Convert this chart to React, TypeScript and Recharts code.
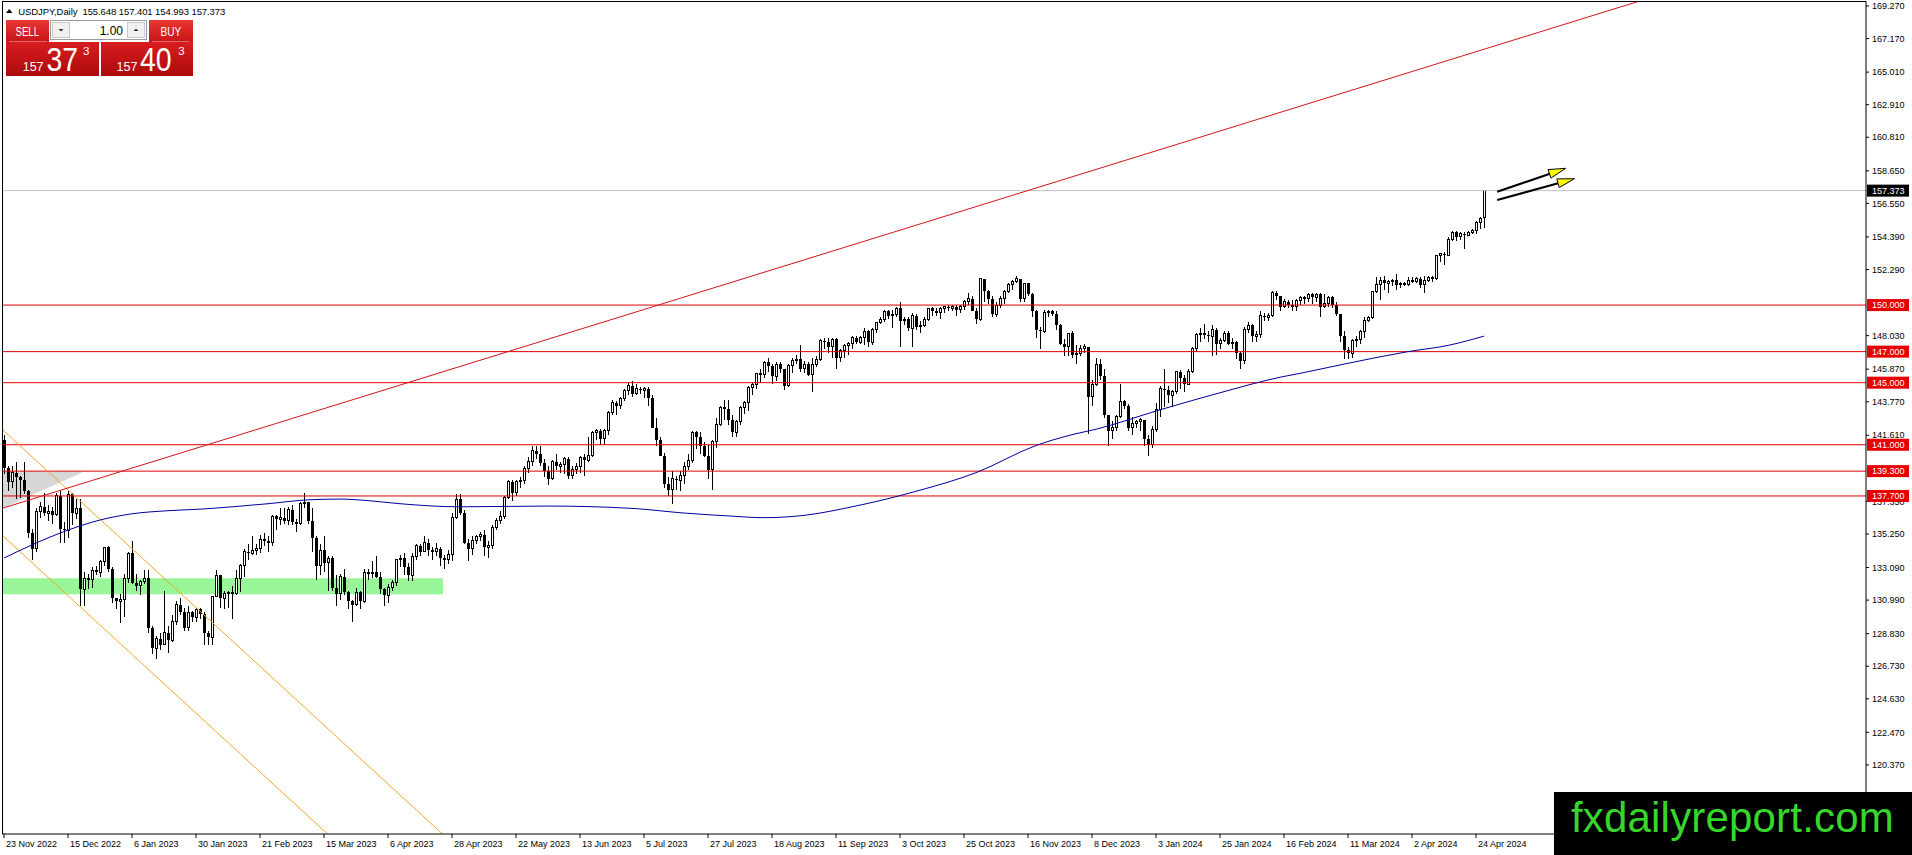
// USDJPY Daily — MT4-style candlestick chart rebuilt with Recharts

import {
  ComposedChart, Bar, Line, XAxis, YAxis, ReferenceLine, ReferenceArea,
} from 'recharts'

type Ohlc = [number, number, number, number] // open, high, low, close

// ─── daily candles, one array per month ─────────────────────────────────────
const nov22: Ohlc[] = [
  [141.3,141.6,139.1,139.5],[139.5,139.6,138.0,138.6],[138.6,139.6,138.2,139.2],
  [139.2,139.9,137.5,138.9],[138.9,139.0,137.6,138.7],[138.7,139.9,137.8,138.0],
]
const dec22: Ohlc[] = [
  [138.0,138.1,135.0,135.3],[135.3,135.6,133.6,134.3],
  [134.3,136.9,134.1,136.7],[136.7,137.3,136.3,137.0],[137.0,137.9,136.4,136.6],[136.6,137.1,136.1,136.7],[136.7,137.0,135.9,136.5],
  [136.5,137.9,136.4,137.7],[137.7,138.0,134.7,135.6],[135.6,136.0,134.7,135.5],[135.5,138.0,135.0,137.8],[137.8,137.9,135.8,136.6],
  [136.6,137.5,136.2,136.9],[136.9,137.5,130.6,131.7],[131.7,132.8,130.6,132.4],[132.4,132.7,131.7,132.3],[132.3,133.1,131.8,132.9],
  [132.9,133.2,132.6,132.8],[132.8,133.6,132.5,133.5],[133.5,134.4,133.2,134.4],[134.4,134.5,132.8,133.0],[133.0,133.1,130.8,131.1],
]
const jan23: Ohlc[] = [
  [131.1,131.1,130.4,130.9],[130.9,131.4,129.5,131.0],[131.0,132.7,129.9,132.4],[132.4,134.1,132.1,134.0],[134.0,134.8,132.0,132.1],
  [132.1,132.7,131.6,131.9],[131.9,132.3,131.3,132.2],[132.2,132.9,132.0,132.4],[132.4,132.9,128.9,129.2],[129.2,129.3,127.5,127.9],
  [127.9,128.7,127.2,128.5],[128.5,128.9,127.8,128.1],[128.1,131.6,128.1,128.9],[128.9,129.3,127.6,128.4],[128.4,130.0,128.3,129.6],
  [129.6,130.9,129.4,130.7],[130.7,131.1,130.0,130.2],[130.2,130.5,129.0,129.2],[129.2,130.6,129.0,130.2],[130.2,130.3,129.6,129.9],
  [129.9,130.5,129.6,130.4],[130.4,130.5,129.8,130.1],
]
const feb23: Ohlc[] = [
  [130.1,130.2,128.1,128.9],[128.9,129.0,128.1,128.6],[128.6,131.2,128.1,131.2],
  [131.2,132.9,131.2,132.6],[132.6,132.6,130.5,131.1],[131.1,131.6,130.4,131.4],[131.4,131.6,130.5,131.5],[131.5,131.9,129.8,131.4],
  [131.4,132.9,131.3,132.4],[132.4,133.3,131.5,133.2],[133.2,134.3,132.5,134.1],[134.1,134.6,133.6,134.0],[134.0,135.1,133.9,134.2],
  [134.2,134.6,133.9,134.3],[134.3,135.2,134.0,134.9],[134.9,135.3,134.5,134.8],[134.8,135.1,134.1,134.7],[134.7,136.5,134.5,136.4],
  [136.4,136.5,135.5,136.2],[136.2,136.9,135.8,136.3],
]
const mar23: Ohlc[] = [
  [136.3,136.9,135.9,136.1],[136.1,137.0,135.8,136.8],[136.8,137.1,135.8,136.0],
  [136.0,136.2,135.4,135.9],[135.9,137.3,135.8,137.2],[137.2,137.9,136.9,137.3],[137.3,137.3,135.9,136.1],[136.1,136.9,134.1,135.0],
  [135.0,135.1,132.3,133.2],[133.2,134.6,132.6,134.2],[134.2,135.1,132.8,133.4],[133.4,133.8,131.6,133.7],[133.7,133.8,131.6,131.8],
  [131.8,132.6,130.6,131.4],[131.4,132.7,131.0,132.5],[132.5,133.0,131.3,131.5],[131.5,131.6,130.4,130.9],[130.9,131.0,129.6,130.7],
  [130.7,131.8,130.6,131.5],[131.5,131.6,130.4,130.9],[130.9,133.0,130.8,132.8],[132.8,133.0,132.3,132.7],[132.7,133.5,132.4,132.8],
]
const apr23: Ohlc[] = [
  [132.8,133.8,132.4,132.5],[132.5,132.8,131.4,131.7],[131.7,131.8,130.6,131.3],[131.3,132.0,130.8,131.8],[131.8,132.3,131.6,132.1],
  [132.1,133.6,131.9,133.6],[133.6,133.9,133.1,133.7],[133.7,134.0,132.6,133.1],[133.1,133.4,132.2,132.6],[132.6,134.0,132.2,133.8],
  [133.8,134.6,133.6,134.5],[134.5,134.6,133.8,134.1],[134.1,135.1,134.1,134.7],[134.7,134.9,133.8,134.2],[134.2,134.4,133.6,134.1],
  [134.1,134.7,133.8,134.3],[134.3,134.4,133.2,133.7],[133.7,133.9,133.0,133.6],[133.6,134.2,133.3,133.9],[133.9,136.6,133.5,136.3],
]
const may23: Ohlc[] = [
  [136.3,137.8,136.2,137.5],[137.5,137.8,136.5,136.6],[136.6,136.8,134.6,134.7],[134.7,134.9,133.5,134.3],[134.3,135.1,133.9,134.8],
  [134.8,135.2,134.6,135.1],[135.1,135.4,134.8,135.2],[135.2,135.5,133.8,134.4],[134.4,134.8,133.7,134.5],[134.5,135.8,134.3,135.7],
  [135.7,136.3,135.5,136.1],[136.1,136.7,135.9,136.4],[136.4,137.7,136.2,137.6],[137.6,138.7,137.5,138.6],[138.6,138.7,137.4,137.9],
  [137.9,138.7,137.7,138.6],[138.6,138.9,138.2,138.7],[138.7,139.6,138.5,139.5],[139.5,140.2,139.2,139.9],[139.9,140.9,139.6,140.6],
  [140.6,140.9,140.1,140.4],[140.4,140.9,139.6,139.8],[139.8,140.1,138.9,139.3],
]
const jun23: Ohlc[] = [
  [139.3,139.6,138.4,138.8],[138.8,140.0,138.7,139.9],
  [139.9,140.4,139.4,139.6],[139.6,139.9,139.2,139.7],[139.7,140.2,139.1,140.1],[140.1,140.2,138.8,139.0],[139.0,139.6,138.8,139.4],
  [139.4,139.8,139.1,139.6],[139.6,140.3,139.2,140.2],[140.2,140.4,139.0,140.0],[140.0,141.5,139.9,140.3],[140.3,141.9,140.2,141.8],
  [141.8,142.0,141.3,141.9],[141.9,142.0,141.0,141.4],[141.4,142.0,141.0,141.9],[141.9,143.2,141.6,143.1],[143.1,143.9,142.9,143.7],
  [143.7,143.8,142.9,143.5],[143.5,144.1,143.3,144.0],[144.0,144.6,143.8,144.5],[144.5,145.0,144.2,144.8],[144.8,145.1,144.1,144.3],
]
const jul23: Ohlc[] = [
  [144.3,144.9,144.2,144.6],[144.6,144.7,144.3,144.5],[144.5,144.7,144.0,144.6],[144.6,144.7,143.5,144.0],[144.0,144.2,142.1,142.1],
  [142.1,142.7,140.9,141.3],[141.3,141.5,140.3,140.3],[140.3,140.5,138.2,138.5],[138.5,138.9,137.7,138.1],[138.1,139.3,137.2,138.8],
  [138.8,139.0,138.1,138.7],[138.7,139.3,138.0,139.0],[139.0,139.9,138.5,139.6],[139.6,140.4,139.4,140.0],[140.0,141.9,139.8,141.8],
  [141.8,141.9,140.7,141.5],[141.5,141.8,140.4,140.9],[140.9,141.2,140.2,140.3],[140.3,141.0,138.8,139.4],[139.4,141.3,138.1,141.2],
  [141.2,142.7,140.8,142.3],
]
const aug23: Ohlc[] = [
  [142.3,143.5,142.2,143.4],[143.4,143.9,142.6,143.3],[143.3,143.9,142.3,142.6],[142.6,142.9,141.5,141.8],
  [141.8,142.6,141.5,142.5],[142.5,143.5,142.3,143.4],[143.4,143.8,143.0,143.7],[143.7,144.8,143.2,144.7],[144.7,145.0,144.2,144.9],
  [144.9,145.6,144.6,145.6],[145.6,145.9,145.0,145.5],[145.5,146.4,145.3,146.3],[146.3,146.6,145.7,146.1],[146.1,146.2,144.9,145.4],
  [145.4,146.3,145.1,146.2],[146.2,146.3,145.6,145.9],[145.9,145.9,144.5,144.8],[144.8,146.2,144.7,146.1],[146.1,146.6,145.6,146.4],
  [146.4,146.8,146.2,146.5],[146.5,147.4,145.7,145.9],[145.9,146.4,145.6,146.2],[146.2,146.3,145.4,145.5],
]
const sep23: Ohlc[] = [
  [145.5,146.6,144.4,146.2],
  [146.2,146.7,146.0,146.5],[146.5,147.8,146.4,147.7],[147.7,147.9,147.2,147.6],[147.6,147.9,146.9,147.3],[147.3,147.9,146.6,147.8],
  [147.8,147.9,145.9,146.6],[146.6,147.2,146.3,147.1],[147.1,147.5,146.6,147.4],[147.4,147.6,146.8,147.5],[147.5,148.0,147.2,147.9],
  [147.9,148.0,147.5,147.6],[147.6,148.0,147.5,147.9],[147.9,148.5,147.4,148.3],[148.3,148.4,147.3,147.6],[147.6,148.5,147.4,148.4],
  [148.4,148.9,148.2,148.9],[148.9,149.2,148.8,149.1],[149.1,149.7,148.9,149.6],[149.6,149.7,149.1,149.3],[149.3,149.7,148.5,149.4],
]
const oct23: Ohlc[] = [
  [149.4,149.9,149.2,149.8],[149.8,150.2,147.3,149.0],[149.0,149.2,148.7,149.1],[149.1,149.2,148.3,148.5],[148.5,149.5,147.3,149.3],
  [149.3,149.4,148.4,148.6],[148.6,149.0,148.2,148.7],[148.7,149.2,148.6,149.1],[149.1,149.8,149.0,149.8],[149.8,149.9,149.3,149.6],
  [149.6,149.8,149.3,149.5],[149.5,149.9,149.1,149.8],[149.8,149.9,149.5,149.9],[149.9,150.0,149.6,149.8],[149.8,150.0,149.6,149.9],
  [149.9,150.0,149.3,149.7],[149.7,150.0,149.5,149.9],[149.9,150.3,149.7,150.2],[150.2,150.8,150.0,150.4],[150.4,150.6,149.6,149.6],
  [149.6,149.8,148.8,149.1],[149.1,151.7,149.0,151.7],
]
const nov23: Ohlc[] = [
  [151.7,151.7,150.2,150.9],[150.9,151.0,150.1,150.4],[150.4,150.6,149.2,149.4],
  [149.4,150.2,149.2,150.0],[150.0,150.6,149.8,150.4],[150.4,151.0,150.1,150.9],[150.9,151.4,150.8,151.3],[151.3,151.6,151.0,151.5],
  [151.5,151.9,151.4,151.7],[151.7,151.7,150.2,150.4],[150.4,151.4,150.2,151.4],[151.4,151.4,150.6,150.7],[150.7,150.8,149.2,149.6],
  [149.6,149.7,147.9,148.4],[148.4,148.6,147.2,148.3],[148.3,149.7,148.2,149.5],[149.5,149.7,149.2,149.6],[149.6,149.7,149.3,149.4],
  [149.4,149.6,148.4,148.7],[148.7,148.8,147.4,147.5],[147.5,147.8,146.7,147.3],[147.3,148.2,146.7,148.2],
]
const dec23: Ohlc[] = [
  [148.2,148.3,146.6,146.8],
  [146.8,147.4,146.2,146.9],[146.9,147.4,146.7,147.2],[147.2,147.5,146.9,147.3],[147.3,147.3,141.7,144.1],[144.1,145.2,143.5,144.9],
  [144.9,146.6,144.8,146.2],[146.2,146.5,145.2,145.4],[145.4,145.9,142.7,142.9],[142.9,142.9,140.9,141.9],[141.9,142.5,141.4,142.1],
  [142.1,142.9,141.9,142.8],[142.8,144.9,142.7,143.8],[143.8,143.9,143.3,143.5],[143.5,143.6,141.9,142.1],[142.1,142.8,141.6,142.4],
  [142.4,142.6,142.1,142.5],[142.5,142.7,141.9,142.6],[142.6,142.6,140.9,141.4],[141.4,141.6,140.3,141.0],
]
const jan24: Ohlc[] = [
  [141.0,142.2,140.8,142.0],[142.0,143.7,141.8,143.3],[143.3,144.8,142.8,144.6],[144.6,145.9,143.4,144.5],
  [144.5,144.8,143.7,144.2],[144.2,144.5,143.4,144.4],[144.4,145.7,144.3,145.7],[145.7,145.8,144.6,145.3],[145.3,145.5,144.4,144.9],
  [144.9,145.9,144.9,145.7],[145.7,147.3,145.6,147.2],[147.2,148.2,147.0,148.1],[148.1,148.5,147.6,148.2],[148.2,148.8,147.8,148.1],
  [148.1,148.3,147.6,148.0],[148.0,148.7,146.7,148.4],[148.4,148.5,146.8,147.5],[147.5,147.9,147.2,147.7],[147.7,148.3,147.6,148.2],
  [148.2,148.3,147.4,147.5],[147.5,147.9,147.2,147.6],[147.6,147.7,146.5,146.9],
]
const feb24: Ohlc[] = [
  [146.9,147.0,145.9,146.4],[146.4,148.6,146.2,148.4],
  [148.4,148.9,148.2,148.7],[148.7,148.8,147.6,148.0],[148.0,148.3,147.6,148.1],[148.1,149.6,147.9,149.3],[149.3,149.5,149.0,149.2],
  [149.2,149.5,149.0,149.3],[149.3,150.9,149.2,150.8],[150.8,150.9,150.3,150.6],[150.6,150.6,149.6,149.9],[149.9,150.4,149.8,150.2],
  [150.2,150.3,149.8,150.0],[150.0,150.3,149.6,149.9],[149.9,150.4,149.6,150.3],[150.3,150.6,150.0,150.5],[150.5,150.6,150.1,150.4],
  [150.4,150.8,150.2,150.7],[150.7,150.8,150.1,150.5],[150.5,150.8,150.2,150.7],[150.7,150.8,149.2,149.9],
]
const mar24: Ohlc[] = [
  [149.9,150.7,149.8,150.1],
  [150.1,150.6,149.9,150.5],[150.5,150.6,149.8,150.0],[150.0,150.2,149.3,149.4],[149.4,149.4,147.6,148.0],[148.0,148.3,146.5,147.1],
  [147.1,147.3,146.5,146.9],[146.9,147.8,146.6,147.7],[147.7,148.0,147.3,147.8],[147.8,148.4,147.5,148.3],[148.3,149.2,147.9,149.0],
  [149.0,149.3,148.9,149.2],[149.2,150.9,149.1,150.9],[150.9,151.8,150.8,151.3],[151.3,151.8,150.3,151.6],[151.6,151.9,151.0,151.4],
  [151.4,151.6,150.8,151.5],[151.5,151.7,151.2,151.6],[151.6,152.0,151.0,151.3],[151.3,151.5,151.1,151.4],[151.4,151.5,151.2,151.3],
]
const apr24: Ohlc[] = [
  [151.3,151.8,151.2,151.6],[151.6,151.8,151.4,151.5],[151.5,151.8,151.4,151.7],[151.7,151.8,151.1,151.3],[151.3,151.9,150.8,151.6],
  [151.6,151.9,151.5,151.8],[151.8,151.9,151.5,151.7],[151.7,153.2,151.6,153.2],[153.2,153.3,152.8,153.3],[153.3,153.4,152.6,153.2],
  [153.2,154.4,153.2,154.2],[154.2,154.8,154.1,154.7],[154.7,154.8,154.1,154.4],[154.4,154.7,154.2,154.6],[154.6,154.7,153.6,154.5],
  [154.5,154.8,154.5,154.7],[154.7,154.9,154.6,154.8],[154.8,155.4,154.6,155.3],[155.3,155.7,154.9,155.6],[155.65,157.40,154.99,157.37],
]

// moving average: [bar index, price]
const maPoints: [number, number][] = [
  [0,133.7],[7,134.55],[16,135.5],[24,136.15],[32,136.55],[41,136.75],[49,136.85],[57,137.0],[66,137.2],
  [76,137.45],[84,137.5],[91,137.4],[99,137.2],[114,137.0],[136,137.05],[157,136.9],[170,136.6],[182,136.4],
  [190,136.3],[200,136.45],[212,137.0],[228,138.0],[243,139.2],[258,140.95],[267,141.65],[273,142.0],
  [289,143.25],[304,144.35],[319,145.35],[324,145.6],[336,146.25],[351,147.0],[361,147.4],[370,148.0],
]

const dateTicks = [0,16,32,48,64,80,96,112,128,144,160,176,192,208,224,240,256,272,288,304,320,336,352,368]
const dateLabels = [
  '23 Nov 2022','15 Dec 2022','6 Jan 2023','30 Jan 2023','21 Feb 2023','15 Mar 2023','6 Apr 2023',
  '28 Apr 2023','22 May 2023','13 Jun 2023','5 Jul 2023','27 Jul 2023','18 Aug 2023','11 Sep 2023',
  '3 Oct 2023','25 Oct 2023','16 Nov 2023','8 Dec 2023','3 Jan 2024','25 Jan 2024','16 Feb 2024',
  '11 Mar 2024','2 Apr 2024','24 Apr 2024',
]
// scale labels that stay visible (150.190 and 139.480 sit fully under the level tags)
const priceTicks = [
  169.27,167.17,165.01,162.91,160.81,158.65,156.55,154.39,152.29,148.03,145.87,
  143.77,141.61,137.35,135.25,133.09,130.99,128.83,126.73,124.63,122.47,120.37,
]
const levels = [150, 147, 145, 141, 139.3, 137.7]
const lastPrice = 157.373

// drawing objects, in (bar index, price)
const trendLine = [{ x: -0.5, y: 136.9 }, { x: 408.9, y: 169.59 }]
const channelUpper = [{ x: -0.5, y: 142.0 }, { x: 109.6, y: 115.92 }]
const channelLower = [{ x: -0.5, y: 135.18 }, { x: 80.9, y: 115.92 }]
const arrowA = [{ x: 373.3, y: 157.3 }, { x: 390.4, y: 158.81 }]
const arrowB = [{ x: 373.3, y: 156.77 }, { x: 392.6, y: 158.14 }]
const greenZone = { x1: -0.3, x2: 109.75, y1: 131.36, y2: 132.39 }
const grayWedge = { x1: -0.5, x2: 20.25, y1: 136.9, y2: 139.3 }

const symbolText = 'USDJPY,Daily\u00a0\u00a0155.648 157.401 154.993 157.373'
const watermark = 'fxdailyreport.com'

const candles: Ohlc[] = [
  ...nov22, ...dec22, ...jan23, ...feb23, ...mar23, ...apr23, ...may23, ...jun23, ...jul23,
  ...aug23, ...sep23, ...oct23, ...nov23, ...dec23, ...jan24, ...feb24, ...mar24, ...apr24,
]
const maAt = new Map(maPoints)
const rows = candles.map(([o, h, l, c], i) => ({
  i, o, h, l, c, range: [l, h], ma: maAt.has(i) ? maAt.get(i) : null,
}))

// scale ticks first, tags last so the tags paint over the scale text
const axisTicks = [...priceTicks, lastPrice, ...levels]

const FONT = '"Liberation Sans", Arial, sans-serif'

function Candle(props: any) {
  const { x, y, width, height, payload } = props
  if (!payload) return null
  const { o, h, l, c } = payload
  const cx = Math.round(x + width / 2)
  const k = h > l ? height / (h - l) : 0
  const py = (p: number) => y + (h - p) * k
  const top = py(Math.max(o, c))
  const bot = py(Math.min(o, c))
  return (
    <g shapeRendering="crispEdges">
      <line x1={cx + 0.5} x2={cx + 0.5} y1={y} y2={y + height} stroke="#000" />
      {c >= o
        ? <rect x={cx - 0.5} y={top} width={2} height={Math.max(bot - top, 0)} fill="#fff" stroke="#000" />
        : <rect x={cx - 1} y={top} width={3} height={Math.max(bot - top, 1)} fill="#000" />}
    </g>
  )
}

function PriceTick(props: any) {
  const { x, y, payload } = props
  const v = Number(payload.value)
  const isLevel = levels.includes(v)
  if (isLevel || v === lastPrice) {
    return (
      <g>
        <rect x={x + 1} y={y - 6} width={42} height={12} fill={isLevel ? '#e60000' : '#000'} />
        <text x={x + 6} y={y + 3.3} fontSize={9} fontFamily={FONT} fill="#fff">{v.toFixed(3)}</text>
      </g>
    )
  }
  return (
    <g>
      <line x1={x} x2={x + 3} y1={y} y2={y} stroke="#000" />
      <text x={x + 6} y={y + 3.2} fontSize={9} fontFamily={FONT} fill="#000">{v.toFixed(3)}</text>
    </g>
  )
}

function DateTick(props: any) {
  const { x, y, payload } = props
  const label = dateLabels[dateTicks.indexOf(payload.value)]
  return (
    <g>
      <line x1={x} x2={x} y1={y} y2={y + 4} stroke="#000" />
      <text x={x + 2} y={y + 12.5} fontSize={9} fontFamily={FONT} fill="#000">{label}</text>
    </g>
  )
}

function wedgeShape(props: any) {
  const { x, y, width, height } = props
  return <polygon points={`${x},${y} ${x + width},${y} ${x},${y + height}`} fill="#d6d6d6" />
}

function arrowShape(props: any) {
  const { x1, y1, x2, y2 } = props
  const len = Math.hypot(x2 - x1, y2 - y1) || 1
  const ux = (x2 - x1) / len, uy = (y2 - y1) / len
  const bx = x2 - ux * 17, by = y2 - uy * 17
  const nx = -uy * 4.5, ny = ux * 4.5
  return (
    <g>
      <line x1={x1} y1={y1} x2={bx + ux * 2} y2={by + uy * 2} stroke="#000" strokeWidth={2.2} />
      <polygon points={`${x2},${y2} ${bx + nx},${by + ny} ${bx - nx},${by - ny}`}
        fill="#ffff00" stroke="#000" strokeWidth={1} />
    </g>
  )
}

function Overlay() {
  return (
    <svg width={1912} height={855} style={{ position: 'absolute', left: 0, top: 0, pointerEvents: 'none' }}>
      <defs>
        <linearGradient id="btn" x1="0" y1="0" x2="0" y2="1">
          <stop offset="0" stopColor="#ea3535" />
          <stop offset="1" stopColor="#c81414" />
        </linearGradient>
        <linearGradient id="box" x1="0" y1="0" x2="0" y2="1">
          <stop offset="0" stopColor="#d81d1f" />
          <stop offset="1" stopColor="#ac0a0c" />
        </linearGradient>
      </defs>

      {/* chart frame */}
      <line x1={2} x2={1866} y1={1.5} y2={1.5} stroke="#000" />
      <line x1={2.5} x2={2.5} y1={1} y2={834} stroke="#000" />

      {/* symbol line */}
      <polygon points="6,13 12.5,13 9.25,9" fill="#000" />
      <text x={18.3} y={14.5} fontSize={9.5} fontFamily={FONT} fill="#000" textLength={207}>{symbolText}</text>

      {/* one-click trading panel */}
      <rect x={6} y={20} width={43} height={22} fill="url(#btn)" />
      <line x1={9} x2={47} y1={41.5} y2={41.5} stroke="rgba(255,255,255,0.35)" />
      <text x={15.5} y={36} fontSize={12.5} fontFamily={FONT} fill="#fff" textLength={23.5} lengthAdjust="spacingAndGlyphs">SELL</text>
      <rect x={50.5} y={20.5} width={96} height={19} fill="#fff" stroke="#9a9a9a" />
      <rect x={52.5} y={22.5} width={17} height={15} fill="#f0f0f0" stroke="#c8c8c8" />
      <polygon points="58.5,29 63.5,29 61,31.5" fill="#333" />
      <rect x={127.5} y={22.5} width={17} height={15} fill="#f0f0f0" stroke="#c8c8c8" />
      <polygon points="133.5,31 138.5,31 136,28.5" fill="#333" />
      <text x={123} y={34.5} fontSize={12} fontFamily={FONT} fill="#000" textAnchor="end">1.00</text>
      <rect x={149} y={20} width={44} height={22} fill="url(#btn)" />
      <line x1={152} x2={190} y1={41.5} y2={41.5} stroke="rgba(255,255,255,0.35)" />
      <text x={160.5} y={36} fontSize={12.5} fontFamily={FONT} fill="#fff" textLength={20.7} lengthAdjust="spacingAndGlyphs">BUY</text>

      <rect x={6} y={42} width={93} height={34} fill="url(#box)" />
      <rect x={101} y={42} width={92} height={34} fill="url(#box)" />
      <text x={22.7} y={70.5} fontSize={12.5} fontFamily={FONT} fill="#fff">157</text>
      <text x={46.5} y={70.5} fontSize={33} fontFamily={FONT} fill="#fff" textLength={31.6} lengthAdjust="spacingAndGlyphs">37</text>
      <text x={83} y={55} fontSize={11.5} fontFamily={FONT} fill="#fff">3</text>
      <text x={116.5} y={70.5} fontSize={12.5} fontFamily={FONT} fill="#fff">157</text>
      <text x={140} y={70.5} fontSize={33} fontFamily={FONT} fill="#fff" textLength={31.7} lengthAdjust="spacingAndGlyphs">40</text>
      <text x={178.3} y={55} fontSize={11.5} fontFamily={FONT} fill="#fff">3</text>

      {/* watermark */}
      <rect x={1554} y={792} width={358} height={63} fill="#000" />
      <text x={1571} y={832} fontSize={42} fontFamily={FONT} fill="#36d62c" textLength={322.7}>{watermark}</text>
    </svg>
  )
}

export default function App() {
  return (
    <div style={{ position: 'absolute', left: 0, top: 0, width: 1912, height: 855, background: '#fff', overflow: 'hidden' }}>
      <ComposedChart width={1912} height={855} data={rows} margin={{ top: 1, right: 0, bottom: 0, left: 2 }}>
        <XAxis dataKey="i" type="number" domain={[-0.5, 465.5]} allowDataOverflow ticks={dateTicks} interval={0}
          height={21} tickSize={0} tickMargin={0} tickLine={false} axisLine={{ stroke: '#000' }} tick={<DateTick />} />
        <YAxis orientation="right" type="number" domain={[115.919, 169.592]} allowDataOverflow ticks={axisTicks}
          interval={0} width={46} tickSize={0} tickMargin={0} tickLine={false} axisLine={{ stroke: '#000' }} tick={<PriceTick />} />

        <ReferenceArea {...greenZone} fill="#98f598" fillOpacity={1} stroke="none" ifOverflow="hidden" />
        <ReferenceArea {...grayWedge} shape={wedgeShape} ifOverflow="hidden" />

        <ReferenceLine y={lastPrice} stroke="#c0c0c0" />
        {levels.map(p => <ReferenceLine key={p} y={p} stroke="#e00000" />)}

        <ReferenceLine segment={channelUpper} stroke="#f2a52a" ifOverflow="hidden" />
        <ReferenceLine segment={channelLower} stroke="#f2a52a" ifOverflow="hidden" />
        <ReferenceLine segment={trendLine} stroke="#d0141c" ifOverflow="hidden" />

        <Line dataKey="ma" type="monotone" stroke="#00009c" strokeWidth={1} dot={false} activeDot={false}
          connectNulls isAnimationActive={false} />
        <Bar dataKey="range" barSize={3} shape={(p: any) => <Candle {...p} />} isAnimationActive={false} />

        <ReferenceLine segment={arrowA} shape={arrowShape} ifOverflow="visible" />
        <ReferenceLine segment={arrowB} shape={arrowShape} ifOverflow="visible" />
      </ComposedChart>
      <Overlay />
    </div>
  )
}
